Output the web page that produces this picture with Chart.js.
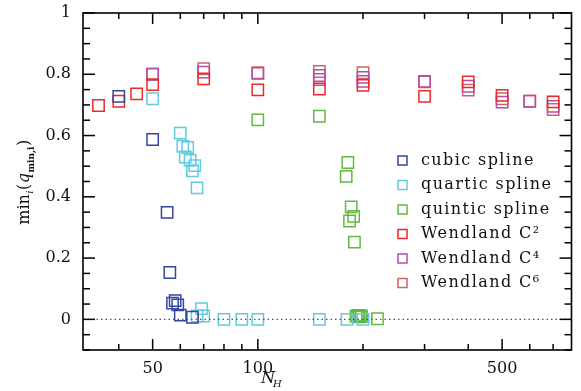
<!DOCTYPE html>
<html>
<head>
<meta charset="utf-8">
<script src="https://cdn.jsdelivr.net/npm/chart.js@4.4.1/dist/chart.umd.min.js"></script>
<style>
  html, body { margin: 0; padding: 0; background: #fff; }
  #wrap { width: 581px; height: 391px; }
</style>
</head>
<body>
<div id="wrap"><canvas id="qmin-chart" width="581" height="391"></canvas></div>
<script>
// minimum q per kernel vs number of neighbours
const nCubic = [40, 50, 55, 56, 57, 58, 59, 60, 65];
const qCubic = [0.728, 0.587, 0.349, 0.153, 0.053, 0.061, 0.047, 0.014, 0.007];

const nQuartic = [50, 60, 61, 62, 63, 64, 65, 66, 67, 67, 69, 70, 80, 90, 100, 150, 180, 200];
const qQuartic = [0.72, 0.608, 0.565, 0.53, 0.561, 0.519, 0.485, 0.502, 0.429, 0.011, 0.035, 0.011, 0, 0, 0, 0, 0, 0];

const nQuintic = [100, 150, 179, 181, 183, 185, 188, 189, 191, 193, 194, 195, 197, 198, 220];
const qQuintic = [0.651, 0.663, 0.467, 0.512, 0.321, 0.367, 0.336, 0.252, 0.01, 0.013, 0.008, 0.012, 0.009, 0.011, 0.002];

const nC2 = [35, 40, 45, 50, 70, 100, 150, 200, 300, 400, 500, 700];
const qC2 = [0.698, 0.712, 0.736, 0.766, 0.785, 0.749, 0.752, 0.764, 0.728, 0.775, 0.731, 0.71];

const nC4 = [50, 70, 100, 150, 150, 200, 200, 300, 400, 500, 600, 700];
const qC4 = [0.80, 0.807, 0.803, 0.796, 0.783, 0.79, 0.777, 0.777, 0.761, 0.709, 0.712, 0.695];

const nC6 = [50, 70, 100, 150, 200, 300, 400, 500, 600, 700];
const qC6 = [0.80, 0.818, 0.805, 0.809, 0.805, 0.775, 0.748, 0.72, 0.712, 0.685];

const xTicks = [40, 50, 60, 70, 80, 90, 100, 200, 300, 400, 500, 600, 700];
const xLabels = [50, 100, 500];
const yLabels = [0, 0.2, 0.4, 0.6, 0.8, 1];

const X_MIN = 31.6, X_MAX = 790;
const SERIF = '"DejaVu Serif", serif';

const toPoints = (xs, ys) => xs.map((v, i) => ({ x: v, y: ys[i] }));
const isYLabel = v => yLabels.some(l => Math.abs(l - v) < 1e-6);

const series = [
	{ label: 'cubic spline', n: nCubic, q: qCubic, color: '#34479e' },
	{ label: 'quartic spline', n: nQuartic, q: qQuartic, color: '#62cbe0' },
	{ label: 'quintic spline', n: nQuintic, q: qQuintic, color: '#62b843' },
	{ label: 'Wendland C\u00b2', n: nC2, q: qC2, color: '#ee2727' },
	{ label: 'Wendland C\u2074', n: nC4, q: qC4, color: '#b44ea8' },
	{ label: 'Wendland C\u2076', n: nC6, q: qC6, color: '#cf6464' }
];

// box and inward ticks on all four sides
const frame = {
	id: 'frame',
	afterDraw(chart) {
		const { ctx, chartArea: a, scales: { x, y } } = chart;
		ctx.save();
		ctx.strokeStyle = '#000';
		ctx.lineWidth = 1.5;
		const seg = (x0, y0, x1, y1) => {
			ctx.beginPath();
			ctx.moveTo(x0, y0);
			ctx.lineTo(x1, y1);
			ctx.stroke();
		};
		for (const t of y.ticks) {
			const py = y.getPixelForValue(t.value);
			const len = isYLabel(t.value) ? 12 : 7;
			seg(a.left, py, a.left + len, py);
			seg(a.right, py, a.right - len, py);
		}
		for (const t of x.ticks) {
			const px = x.getPixelForValue(t.value);
			const len = xLabels.includes(t.value) ? 11 : 6;
			seg(px, a.bottom, px, a.bottom - len);
			seg(px, a.top, px, a.top + len);
		}
		ctx.lineWidth = 1.6;
		ctx.strokeRect(a.left, a.top, a.right - a.left, a.bottom - a.top);
		ctx.restore();
	}
};

// legend, axis titles with subscripts
const labels = {
	id: 'labels',
	afterDraw(chart) {
		const { ctx } = chart;
		ctx.save();
		ctx.fillStyle = '#111';
		ctx.textBaseline = 'middle';
		ctx.font = '16px ' + SERIF;
		ctx.letterSpacing = '1.4px';
		series.forEach((s, i) => {
			const cy = 160.5 + i * 24.5;
			ctx.strokeStyle = s.color;
			ctx.lineWidth = 1.5;
			ctx.strokeRect(398, cy - 4.5, 9, 9);
			ctx.fillText(s.label, 421, cy);
		});
		ctx.letterSpacing = '0px';

		// x title: N_H
		ctx.textBaseline = 'alphabetic';
		ctx.font = 'italic 16px ' + SERIF;
		ctx.fillText('N', 261, 383);
		ctx.font = 'italic 10px ' + SERIF;
		ctx.fillText('H', 273, 387);

		// y title: min_i(q_min,i)
		const parts = [
			{ t: 'min', f: '16px ' + SERIF, dy: 0 },
			{ t: 'i', f: 'italic 10px ' + SERIF, dy: 4 },
			{ t: '(', f: '16px ' + SERIF, dy: 0 },
			{ t: 'q', f: 'italic 16px ' + SERIF, dy: 0 },
			{ t: 'min,i', f: 'bold 9px ' + SERIF, dy: 5 },
			{ t: ')', f: '16px ' + SERIF, dy: 0 }
		];
		let total = 0;
		parts.forEach(p => { ctx.font = p.f; p.w = ctx.measureText(p.t).width + 0.5; total += p.w; });
		ctx.translate(29, 182);
		ctx.rotate(-Math.PI / 2);
		let cx = -total / 2;
		parts.forEach(p => {
			ctx.font = p.f;
			ctx.fillText(p.t, cx, p.dy);
			cx += p.w;
		});
		ctx.restore();
	}
};

const datasets = [{
	type: 'line',
	data: [{ x: X_MIN, y: 0 }, { x: X_MAX, y: 0 }],
	borderColor: '#555',
	borderWidth: 1.4,
	borderDash: [1.5, 3],
	pointRadius: 0
}].concat(series.map(s => ({
	label: s.label,
	data: toPoints(s.n, s.q),
	pointStyle: 'rect',
	pointRadius: 8,
	borderWidth: 1.5,
	borderColor: s.color,
	backgroundColor: 'rgba(0,0,0,0)',
	showLine: false
})));

new Chart(document.getElementById('qmin-chart'), {
	type: 'scatter',
	data: { datasets },
	options: {
		responsive: false,
		animation: false,
		layout: { padding: { left: 0, right: 2, top: 13, bottom: 0 } },
		plugins: { legend: { display: false }, tooltip: { enabled: false } },
		scales: {
			x: {
				type: 'logarithmic',
				min: X_MIN,
				max: X_MAX,
				grid: { display: false, drawTicks: false },
				border: { display: false },
				afterBuildTicks: scale => { scale.ticks = xTicks.map(v => ({ value: v })); },
				afterFit: scale => {
					scale.height = 41;
					scale.paddingLeft = 0;
					scale.paddingRight = 0;
				},
				ticks: {
					autoSkip: false,
					maxRotation: 0,
					padding: 9,
					color: '#111',
					font: { family: SERIF, size: 16 },
					callback: v => xLabels.includes(v) ? String(v) : ''
				}
			},
			y: {
				min: -0.1,
				max: 1,
				grid: { display: false, drawTicks: false },
				border: { display: false },
				afterBuildTicks: scale => {
					const t = [];
					for (let k = -2; k <= 20; k++) t.push({ value: k * 0.05 });
					scale.ticks = t;
				},
				afterFit: scale => {
					scale.width = 83;
					scale.paddingTop = 0;
					scale.paddingBottom = 0;
				},
				ticks: {
					autoSkip: false,
					padding: 12,
					color: '#111',
					font: { family: SERIF, size: 16 },
					callback: v => isYLabel(v) ? String(Math.round(v * 10) / 10) : ''
				}
			}
		}
	},
	plugins: [frame, labels]
});
</script>
</body>
</html>
